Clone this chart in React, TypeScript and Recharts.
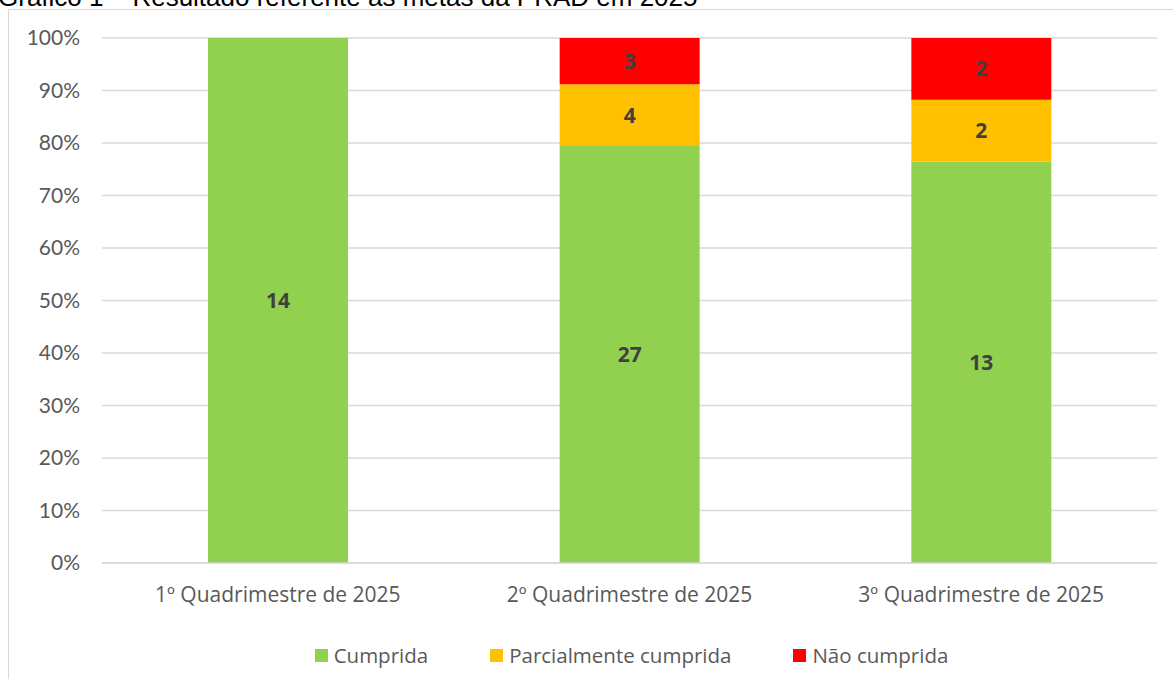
import { Bar, BarChart, CartesianGrid, LabelList, Legend, XAxis, YAxis } from 'recharts'

const categories = ['1º Quadrimestre de 2025', '2º Quadrimestre de 2025', '3º Quadrimestre de 2025']
const cumprida = [14, 27, 13]
const parcial = [0, 4, 2]
const naoCumprida = [0, 3, 2]
const yTicks = [0, 0.1, 0.2, 0.3, 0.4, 0.5, 0.6, 0.7, 0.8, 0.9, 1]

const SERIES = [
  { key: 'cumprida', name: 'Cumprida', color: '#92D050' },
  { key: 'parcial', name: 'Parcialmente cumprida', color: '#FFC000' },
  { key: 'naoCumprida', name: 'Não cumprida', color: '#FF0000' },
]

const data = categories.map((name, i) => ({
  name,
  cumprida: cumprida[i],
  parcial: parcial[i],
  naoCumprida: naoCumprida[i],
}))

const FONT = '"Open Sans", Lato, sans-serif'
const NUM_FONT = 'Lato, "Open Sans", sans-serif'

function ChartLegend() {
  return (
    <div
      style={{
        display: 'flex',
        justifyContent: 'center',
        gap: 62,
        fontFamily: FONT,
        fontSize: 20.5,
        color: '#595959',
        paddingLeft: 90,
      }}
    >
      {SERIES.map((s) => (
        <div key={s.key} style={{ display: 'flex', alignItems: 'center' }}>
          <span
            style={{
              width: 13,
              height: 13,
              background: s.color,
              display: 'inline-block',
              marginRight: 6,
            }}
          />
          {s.name}
        </div>
      ))}
    </div>
  )
}

export default function App() {
  return (
    <div style={{ position: 'fixed', left: 0, top: 0, width: 1173, height: 679, overflow: 'hidden', background: '#fff' }}>
      <div
        style={{
          position: 'absolute',
          left: 8,
          top: 9,
          width: 1170,
          height: 680,
          borderLeft: '1.5px solid #d9d9d9',
          borderTop: '1.5px solid #d9d9d9',
        }}
      />
      <div style={{ position: 'absolute', left: 0, top: 0 }}>
        <BarChart
          width={1173}
          height={679}
          data={data}
          stackOffset="expand"
          barSize={140}
          margin={{ top: 38, right: 16, bottom: 0, left: 0 }}
        >
          <CartesianGrid vertical={false} stroke="#d9d9d9" strokeWidth={1.5} />
          <XAxis
            dataKey="name"
            tickLine={false}
            axisLine={{ stroke: '#d9d9d9', strokeWidth: 1.5 }}
            tickMargin={18}
            height={88}
            tick={{ fill: '#595959', fontSize: 21, fontFamily: FONT }}
          />
          <YAxis
            width={102}
            ticks={yTicks}
            domain={[0, 1]}
            tickFormatter={(v) => `${Math.round(v * 100)}%`}
            axisLine={false}
            tickLine={false}
            tickMargin={16}
            tick={{ fill: '#595959', fontSize: 21, fontFamily: NUM_FONT }}
          />
          <Legend
            verticalAlign="bottom"
            content={() => <ChartLegend />}
            wrapperStyle={{ bottom: 10, left: 0, width: 1173 }}
          />
          {SERIES.map((s) => (
            <Bar
              key={s.key}
              dataKey={s.key}
              name={s.name}
              stackId="a"
              fill={s.color}
              isAnimationActive={false}
            >
              <LabelList
                dataKey={s.key}
                position="center"
                formatter={(v: number) => (v ? v : '')}
                fill="#404040"
                style={{ fontFamily: FONT, fontSize: 21, fontWeight: 700 }}
              />
            </Bar>
          ))}
        </BarChart>
      </div>
      <div
        style={{
          position: 'absolute',
          left: -2,
          top: -18,
          zIndex: 5,
          lineHeight: '30px',
          fontFamily: '"Liberation Sans", Arial, sans-serif',
          fontSize: 26,
          whiteSpace: 'nowrap',
          color: '#000',
        }}
      >
        Gráfico 1 – Resultado referente às metas da PRAD em 2025
      </div>
    </div>
  )
}
